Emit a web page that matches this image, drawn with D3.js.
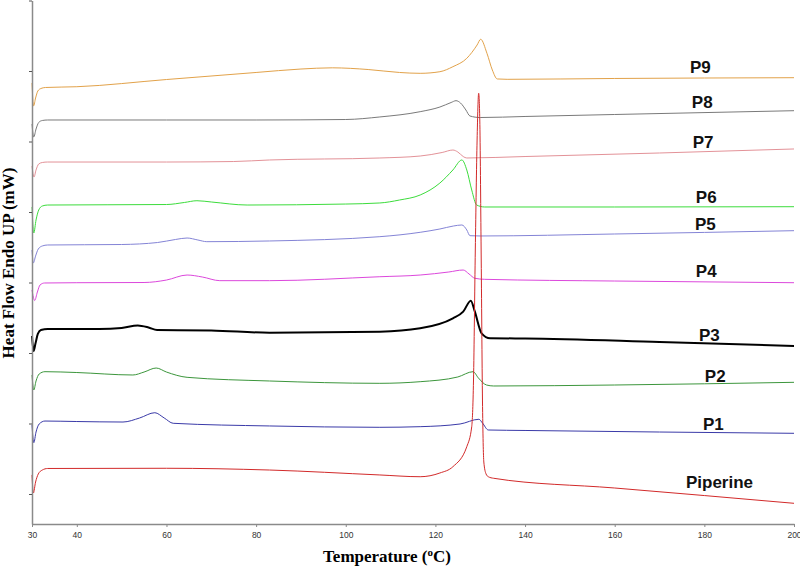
<!DOCTYPE html>
<html>
<head>
<meta charset="utf-8">
<script src="https://cdn.jsdelivr.net/npm/d3@7"></script>
<style>
  html, body { margin: 0; padding: 0; background: #fff; }
  svg { display: block; }
</style>
</head>
<body>
<svg id="chart" width="800" height="567"></svg>
<script>
// ---------- DATA (temperature °C, heat flow in arbitrary mW units; 10 units per y tick) ----------
const xTickValues = [30, 40, 60, 80, 100, 120, 140, 160, 180, 200];
const yTickValues = [0, 10, 20, 30, 40, 50, 60, 70];

const seriesNames = ["P9", "P8", "P7", "P6", "P5", "P4", "P3", "P2", "P1", "Piperine"];

const p9 = [[30,58.30],[30.35,55.04],[30.8,56.17],[31.3,57.16],[32,57.52],[33,57.66],[40,57.77],[60,58.79],[80,59.79],[90,60.28],[97,60.45],[105,60.21],[112,59.79],[116.6,59.67],[121,59.90],[123.9,60.61],[127,61.80],[129.3,63.69],[130.1,64.50],[131.5,62.51],[132.7,60.14],[133.8,58.87],[136,58.82],[160,58.94],[200,59.05]];
const p8 = [[30,52.48],[30.4,50.64],[30.9,51.77],[31.5,52.70],[32.3,52.98],[33.5,53.05],[60,53.05],[80,53.05],[100,53.12],[107.6,53.48],[116.6,54.23],[121,54.89],[123.5,55.53],[124.6,55.79],[125.6,55.46],[126.8,54.47],[127.7,53.62],[130,53.40],[140,53.55],[160,53.83],[200,54.37]];
const p7 = [[30,46.52],[30.45,44.96],[30.9,45.96],[31.5,46.81],[32.3,47.02],[33.5,47.09],[60,47.09],[75,47.16],[83,47.38],[107.6,47.66],[116.6,47.94],[121.5,48.44],[123.9,48.79],[125,48.51],[126.2,47.87],[127,47.66],[140,47.87],[170,48.37],[200,48.94]];
const p6 = [[30,40.71],[30.4,37.02],[30.9,38.87],[31.5,40.28],[32.3,40.85],[33.5,40.99],[60,41.06],[64,41.35],[66.8,41.60],[70,41.42],[78,40.99],[100,41.13],[107.6,41.28],[112,41.70],[116.6,42.41],[121,44.11],[123.9,45.96],[125.9,47.38],[127,45.96],[128.1,43.12],[129.2,40.99],[131,40.71],[160,40.71],[200,40.75]];
const p5 = [[30,34.61],[30.3,32.77],[30.8,33.76],[31.4,34.75],[32.3,35.18],[33.5,35.32],[50,35.39],[58,35.67],[62,36.10],[64.6,36.31],[67,36.03],[69,35.79],[83,35.89],[107.6,36.50],[116.6,37.12],[121,37.59],[124,38.01],[125.9,38.16],[127,37.45],[127.7,36.64],[130,36.60],[160,36.88],[200,37.35]];
const p4 = [[30,28.94],[30.6,27.45],[31.2,28.65],[31.8,29.65],[32.8,29.93],[40,29.97],[55,30.00],[60,30.35],[64.6,31.06],[68,30.78],[71.9,30.26],[83,30.26],[107.6,30.82],[116.6,31.06],[123,31.49],[126.2,31.77],[127.5,31.21],[128.8,30.60],[131,30.45],[160,30.21],[200,29.97]];
const p3 = [[30,22.41],[30.35,20.28],[30.8,21.42],[31.3,22.70],[32,23.26],[33.5,23.40],[45,23.40],[50,23.55],[53.6,23.90],[56,23.62],[57.9,23.26],[70,23.19],[83,22.88],[107.6,23.02],[116.6,23.50],[123.9,24.92],[126.2,25.86],[127.9,27.42],[128.8,25.86],[130.3,22.79],[132.2,22.09],[140,22.06],[170,21.56],[200,20.99]];
const p2 = [[30,16.88],[30.4,14.75],[30.9,16.03],[31.6,17.02],[32.9,17.35],[40,17.23],[52.5,16.88],[55,17.30],[57.7,17.87],[60,17.30],[64.6,16.55],[83,16.03],[107.6,15.70],[116.6,15.93],[125,16.60],[128.4,17.35],[129.6,16.45],[131.4,15.46],[133,15.32],[160,15.46],[200,15.84]];
const p1 = [[30,9.79],[30.4,7.28],[30.9,8.79],[31.6,9.93],[32.9,10.35],[40,10.28],[50.3,10.21],[54,10.78],[57.4,11.53],[59.5,10.78],[61.5,10.03],[83,9.65],[107.6,9.46],[116.6,9.55],[125.5,9.93],[129.7,10.60],[130.5,10.07],[131.8,9.08],[140,9.01],[170,8.79],[200,8.61]];
const piperine = [[30,2.70],[30.3,0.14],[30.8,1.70],[31.4,2.84],[32.3,3.40],[33.5,3.62],[60,3.65],[83,3.40],[107.6,2.70],[116.6,2.45],[121,2.98],[123.9,3.87],[127,6.71],[128.1,9.55],[128.5,16.17],[128.9,34.61],[129.3,50.21],[129.65,56.84],[129.9,53.05],[130.2,34.61],[130.5,13.33],[130.8,4.54],[131.3,2.84],[131.8,2.45],[133,2.23],[160,0.85],[200,-1.32]];

const seriesData = [p9, p8, p7, p6, p5, p4, p3, p2, p1, piperine];

// label anchors (temperature, heat flow)
const labelTemps  = [176.8, 177.2, 177.4, 178.1, 177.9, 178.1, 178.8, 180.1, 179.7, 175.9];
const labelValues = [59.72, 54.75, 49.08, 41.28, 37.45, 30.78, 21.77, 15.89, 9.01, 0.85];

// ---------- STYLES ----------
const colors = ["#E2A24A", "#7A7A7A", "#E39298", "#3CDC3C", "#8484D6", "#DC48DC", "#000000", "#3C963C", "#3A3AA8", "#D22A2A"];
const widths = [1, 1, 1, 1, 1, 1, 2, 1, 1, 1];

// ---------- DRAW ----------
const svg = d3.select("#chart");
svg.append("rect").attr("width", 800).attr("height", 567).attr("fill", "#fff");

const x = d3.scaleLinear().domain([30, 200]).range([32, 794]);
const y = d3.scaleLinear().domain([-30 / 7.05, 70]).range([524, 0.5]);

// curves
const line = d3.line()
  .x(d => x(d[0]))
  .y(d => y(d[1]))
  .curve(d3.curveMonotoneX);

seriesData.forEach((s, i) => {
  svg.append("path")
    .datum(s)
    .attr("fill", "none")
    .attr("stroke", colors[i])
    .attr("stroke-width", widths[i])
    .attr("stroke-linejoin", "round")
    .attr("d", line);
});

// x axis
const xAxis = svg.append("g")
  .attr("transform", "translate(0,524)")
  .call(d3.axisBottom(x).tickValues(xTickValues).tickSize(3).tickSizeOuter(0).tickPadding(5));
xAxis.select(".domain").attr("stroke", "#8a8a8a").attr("stroke-width", 1.5);
xAxis.selectAll(".tick line").attr("stroke", "#8a8a8a");
xAxis.selectAll(".tick text")
  .attr("font-family", "Arial, 'Liberation Sans', sans-serif")
  .attr("font-size", 8.5)
  .attr("fill", "#333");

// y axis
const yAxis = svg.append("g")
  .attr("transform", "translate(32,0)")
  .call(d3.axisLeft(y).tickValues(yTickValues).tickSize(3).tickSizeOuter(0).tickFormat(""));
yAxis.select(".domain").attr("stroke", "#8a8a8a").attr("stroke-width", 1.5);
yAxis.selectAll(".tick line").attr("stroke", "#555");

// series labels
seriesNames.forEach((n, i) => {
  svg.append("text")
    .attr("x", x(labelTemps[i]))
    .attr("y", y(labelValues[i]))
    .attr("font-family", "Arial, 'Liberation Sans', sans-serif")
    .attr("font-weight", "bold")
    .attr("font-size", 17)
    .attr("fill", "#111")
    .text(n);
});

// axis titles
const xt = svg.append("text")
  .attr("x", 387)
  .attr("y", 562)
  .attr("text-anchor", "middle")
  .attr("font-family", "'Times New Roman', 'Liberation Serif', serif")
  .attr("font-weight", "bold")
  .attr("font-size", 17)
  .attr("fill", "#000");
xt.append("tspan").text("Temperature (");
xt.append("tspan").attr("font-size", 11).attr("dy", -6).text("o");
xt.append("tspan").attr("dy", 6).text("C)");

svg.append("text")
  .attr("transform", "translate(14,263) rotate(-90)")
  .attr("text-anchor", "middle")
  .attr("font-family", "'Times New Roman', 'Liberation Serif', serif")
  .attr("font-weight", "bold")
  .attr("font-size", 17)
  .attr("fill", "#000")
  .text("Heat Flow Endo UP (mW)");
</script>
</body>
</html>
